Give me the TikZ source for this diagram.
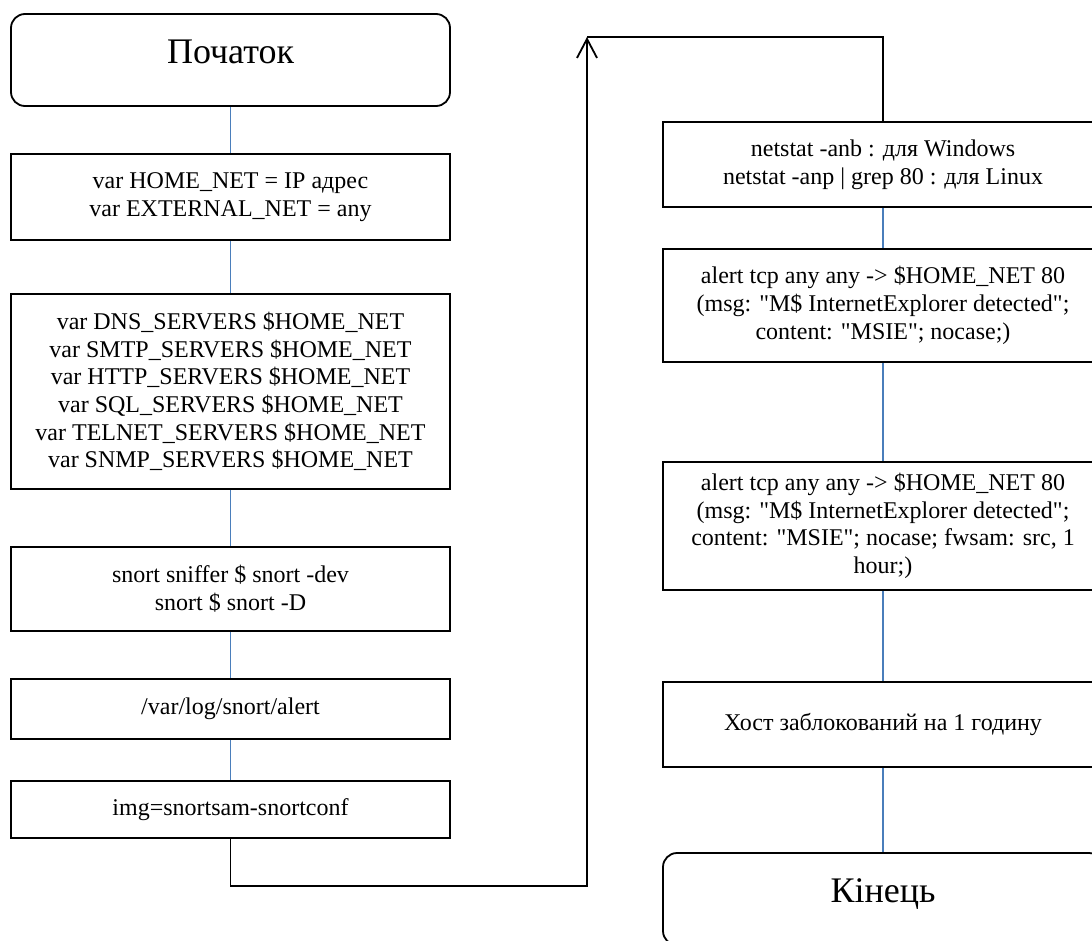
\documentclass[tikz,border=0pt]{standalone}
\usepackage{fontspec}
\setmainfont{Liberation Serif}[Ligatures=TeXOff]
\usetikzlibrary{arrows.meta}
\definecolor{conblue}{RGB}{74,126,187}
\tikzset{
  box/.style={draw=black, line width=1.8pt, inner sep=4pt, align=center,
    font=\fontsize{24}{27.7}\selectfont},
  lbox/.style={box, minimum width=439pt},
  rbox/.style={box, minimum width=440pt},
  term/.style={rounded corners=14pt, font=\fontsize{36}{40}\selectfont,
    text height=24pt, text depth=18pt},
  con/.style={draw=conblue, line width=1.5pt},
  ret/.style={draw=black, line width=1.8pt},
}
\begin{document}
\begin{tikzpicture}[x=1pt,y=-1pt]
\clip (0,0) rectangle (1092,940);
\fill[white] (0,0) rectangle (1092,940);
% left column
\node[lbox, term, minimum height=92pt] (start) at (230.5,60) {Початок};
\node[lbox, minimum height=86pt] (b2) at (230.5,197) {var HOME\_NET = IP адрес\\var EXTERNAL\_NET = any};
\node[lbox, minimum height=195pt] (b3) at (230.5,391.5) {var DNS\_SERVERS \$HOME\_NET\\var SMTP\_SERVERS \$HOME\_NET\\var HTTP\_SERVERS \$HOME\_NET\\var SQL\_SERVERS \$HOME\_NET\\var TELNET\_SERVERS \$HOME\_NET\\var SNMP\_SERVERS \$HOME\_NET};
\node[lbox, minimum height=84pt] (b4) at (230.5,589) {snort sniffer \$ snort -dev\\snort \$ snort -D};
\node[lbox, minimum height=60pt] (b5) at (230.5,709) {/var/log/snort/alert};
\node[lbox, minimum height=57pt] (b6) at (230.5,809.5) {img=snortsam-snortconf};
% right column
\node[rbox, minimum height=85pt] (net) at (883,164.5) {netstat -anb : для Windows\\netstat -anp | grep 80 : для Linux};
\node[rbox, minimum height=113pt] (a1) at (883,305.5) {alert tcp any any -> \$HOME\_NET 80\\(msg: "M\$ InternetExplorer detected";\\content: "MSIE"; nocase;)};
\node[rbox, minimum height=128pt] (a2) at (883,526) {alert tcp any any -> \$HOME\_NET 80\\(msg: "M\$ InternetExplorer detected";\\content: "MSIE"; nocase; fwsam: src, 1\\hour;)};
\node[rbox, minimum height=85pt] (host) at (883,724.5) {Хост заблокований на 1 годину};
\node[rbox, term, minimum height=92pt] (end) at (883,899) {Кінець};
% connectors
\draw[con] (start.south) -- (b2.north);
\draw[con] (b2.south) -- (b3.north);
\draw[con] (b3.south) -- (b4.north);
\draw[con] (b4.south) -- (b5.north);
\draw[con] (b5.south) -- (b6.north);
\draw[con] (net.south) -- (a1.north);
\draw[con] (a1.south) -- (a2.north);
\draw[con] (a2.south) -- (host.north);
\draw[con] (host.south) -- (end.north);
% return path
\coordinate (cbot) at (587,886);
\coordinate (ctop) at (587,37);
\draw[ret, -{Straight Barb[length=19pt,width=20pt]}] (b6.south) |- (cbot) -- (ctop);
\draw[ret] (ctop) -| (net.north);
\end{tikzpicture}
\end{document}
